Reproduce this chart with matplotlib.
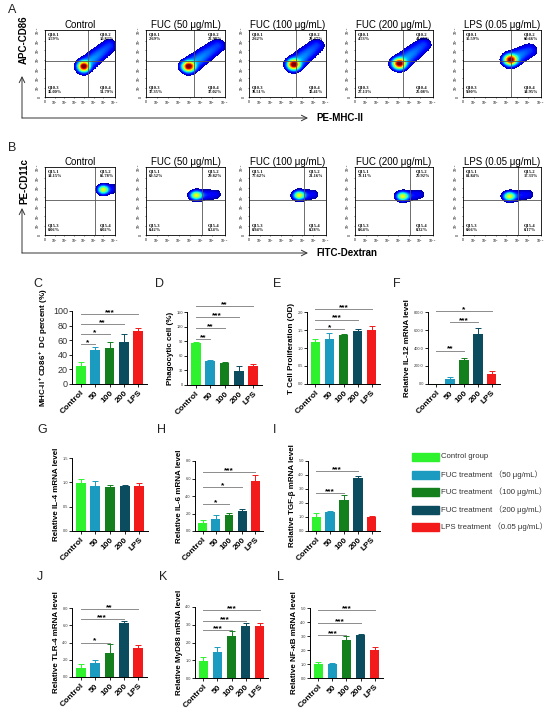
import matplotlib.pyplot as plt
import numpy as np
from matplotlib.patches import Rectangle

plt.rcParams['font.family'] = ['Liberation Sans', 'Noto Sans CJK SC', 'DejaVu Sans']
plt.rcParams['mathtext.default'] = 'regular'

# ---------------- data ----------------
groups = ['Control', '50', '100', '200', 'LPS']
colors = ['#2ef22e', '#1b9bbf', '#137f1d', '#0b4c5f', '#f21a1a']
legend_labels = ['Control group', 'FUC treatment （50 μg/mL）', 'FUC treatment （100 μg/mL）',
                 'FUC treatment （200 μg/mL）', 'LPS treatment （0.05 μg/mL）']

flow_titles = ['Control', 'FUC (50 μg/mL)', 'FUC (100 μg/mL)', 'FUC (200 μg/mL)', 'LPS (0.05 μg/mL)']

# panel A quadrant percentages (Q10-1 .. Q10-4)
a_q1 = [1.59, 2.69, 2.62, 4.53, 15.59]
a_q2 = [10.82, 22.98, 28.47, 43.26, 60.66]
a_q3 = [36.00, 37.35, 38.51, 27.13, 9.80]
a_q4 = [51.79, 37.02, 30.41, 25.08, 14.95]
# panel B quadrant percentages (Q15-1 .. Q15-4)
b_q1 = [14.15, 69.52, 77.62, 78.11, 81.84]
b_q2 = [85.78, 29.82, 21.16, 20.92, 17.33]
b_q3 = [0.06, 0.42, 0.94, 0.64, 0.66]
b_q4 = [0.02, 0.24, 0.28, 0.32, 0.17]

# cloud centres / tails (log10 units)
a_core_x = [4.0, 3.9, 4.2, 4.1, 4.4]
a_core_y = [3.3, 3.3, 3.5, 3.6, 4.0]
a_tail_x = [6.6, 6.5, 6.3, 6.3, 6.1]
a_tail_y = [5.5, 5.5, 5.5, 5.6, 5.0]
b_core_x = [6.0, 4.6, 4.7, 4.4, 4.3]
b_core_y = [4.8, 4.2, 4.2, 4.1, 4.1]
b_tail_x = [7.0, 6.3, 6.0, 5.9, 6.0]
b_tail_y = [4.9, 4.3, 4.3, 4.3, 4.3]
a_gate = (4.4, 3.9)
b_gate = (5.1, 3.7)

mhc_cd86 = [24, 47, 49, 57, 73]
mhc_cd86_err = [6, 3, 8, 12, 4]
phago = [87, 49.5, 44.7, 29, 40]
phago_err = [2, 1.5, 2, 10, 3]
tcell = [1.17, 1.26, 1.37, 1.46, 1.51]
tcell_err = [0.07, 0.17, 0.03, 0.08, 0.10]
il12 = [1, 60, 268, 558, 112]
il12_err = [0, 22, 22, 63, 33]
il4 = [0.99, 0.93, 0.90, 0.92, 0.92]
il4_err = [0.08, 0.10, 0.04, 0.03, 0.07]
il6 = [0.95, 1.33, 1.83, 2.32, 5.68]
il6_err = [0.27, 0.46, 0.19, 0.19, 0.68]
tgfb = [0.98, 1.33, 2.19, 3.81, 0.98]
tgfb_err = [0.28, 0.07, 0.36, 0.12, 0.12]
tlr4 = [1.04, 1.58, 2.74, 6.22, 3.36]
tlr4_err = [0.46, 0.42, 1.08, 0.28, 0.39]
myd88 = [0.98, 1.47, 2.36, 2.92, 2.92]
myd88_err = [0.21, 0.25, 0.28, 0.17, 0.16]
nfkb = [1.0, 0.98, 2.73, 3.09, 2.03]
nfkb_err = [0.12, 0.12, 0.26, 0.04, 0.22]

# significance brackets: (from, to, height, stars)
sig_c = [(0, 1, 55, '*'), (0, 2, 68, '*'), (0, 3, 82, '**'), (0, 4, 96, '***')]
sig_d = [(0, 1, 95, '**'), (0, 2, 117, '**'), (0, 3, 140, '***'), (0, 4, 163, '**')]
sig_e = [(0, 2, 1.52, '*'), (0, 3, 1.79, '***'), (0, 4, 2.07, '***')]
sig_f = [(0, 2, 372, '**'), (1, 3, 684, '***'), (0, 4, 807, '*')]
sig_h = [(0, 2, 3.09, '*'), (0, 3, 4.99, '*'), (0, 4, 6.78, '***')]
sig_i = [(0, 2, 2.69, '***'), (0, 3, 4.29, '***')]
sig_j = [(0, 2, 4.0, '*'), (0, 3, 6.76, '***'), (0, 4, 7.88, '**')]
sig_k = [(0, 2, 2.70, '***'), (0, 3, 3.23, '***'), (0, 4, 3.81, '***')]
sig_l = [(0, 2, 3.09, '***'), (0, 3, 3.92, '***'), (0, 4, 4.86, '***')]

# ---------------- layout helpers ----------------
W, H = 550, 711
fig = plt.figure(figsize=(W / 100, H / 100), dpi=100)


def fx(x):
    return x / W


def fy(y):
    return 1 - y / H


def px_axes(x0, y0, x1, y1):
    return fig.add_axes([x0 / W, 1 - y1 / H, (x1 - x0) / W, (y1 - y0) / H])


def draw_flow(ax, cx, cy, tx, ty, gate, qs, prefix, title, sx, sy, w, vmax):
    g = np.linspace(0, 7.2, 240)
    X, Y = np.meshgrid(g, g)
    core = np.exp(-(((X - cx) / sx) ** 2 + ((Y - cy) / sy) ** 2) / 2)
    dx, dy = tx - cx, ty - cy
    t = np.clip(((X - cx) * dx + (Y - cy) * dy) / (dx * dx + dy * dy), 0, 1)
    d2 = (X - cx - t * dx) ** 2 + (Y - cy - t * dy) ** 2
    tail = 0.16 * np.exp(-d2 / (2 * w * w)) * (1 - 0.5 * t)
    dens = np.ma.masked_less(core + tail, 0.025)
    ax.pcolormesh(g, g, dens ** 0.5, cmap='jet', vmin=0.12, vmax=vmax,
                  shading='auto', rasterized=True)
    ax.axvline(gate[0], color='#555555', lw=0.6)
    ax.axhline(gate[1], color='#555555', lw=0.6)
    ax.set_xlim(0, 7.2)
    ax.set_ylim(0, 7.2)
    tk = [0, 1, 2, 3, 4, 5, 6, 7.2]
    tl = ['0'] + ['$10^{%d}$' % i for i in range(1, 7)] + ['$10^{7.2}$']
    ax.set_xticks(tk)
    ax.set_xticklabels(tl, fontsize=2.5)
    ax.set_yticks(tk)
    ax.set_yticklabels(tl, fontsize=2.5, rotation=90, va='center')
    ax.tick_params(length=1, width=0.4, pad=1)
    for s in ax.spines.values():
        s.set_linewidth(0.6)
    sf = dict(fontsize=3.2, family='Liberation Serif', fontweight='bold', transform=ax.transAxes)
    ax.text(0.04, 0.96, '%s-1\n%.2f%%' % (prefix, qs[0]), ha='left', va='top', **sf)
    ax.text(0.78, 0.96, '%s-2\n%.2f%%' % (prefix, qs[1]), ha='left', va='top', **sf)
    ax.text(0.04, 0.04, '%s-3\n%.2f%%' % (prefix, qs[2]), ha='left', va='bottom', **sf)
    ax.text(0.78, 0.04, '%s-4\n%.2f%%' % (prefix, qs[3]), ha='left', va='bottom', **sf)
    ax.set_title(title, fontsize=7, pad=1.5)


flow_x = [(45, 115), (146, 225), (249, 326), (355, 433), (463, 541)]

# ---------------- panel A ----------------
for k, (x0, x1) in enumerate(flow_x):
    ax = px_axes(x0, 30, x1, 97)
    draw_flow(ax, a_core_x[k], a_core_y[k], a_tail_x[k], a_tail_y[k], a_gate,
              [a_q1[k], a_q2[k], a_q3[k], a_q4[k]], 'Q10', flow_titles[k],
              0.32, 0.3, 0.5, 1.0)

# ---------------- panel B ----------------
for k, (x0, x1) in enumerate(flow_x):
    ax = px_axes(x0, 167, x1, 235)
    draw_flow(ax, b_core_x[k], b_core_y[k], b_tail_x[k], b_tail_y[k], b_gate,
              [b_q1[k], b_q2[k], b_q3[k], b_q4[k]], 'Q15', flow_titles[k],
              0.3, 0.24, 0.33, 1.6)

arr = dict(arrowstyle='->', lw=0.7, color='#333333', shrinkA=0, shrinkB=0)
for ytop, ybase, ylab, ymid, xlab in [(76, 118, 'APC-CD86', 40, 'PE-MHC-II'),
                                     (208, 253, 'PE-CD11c', 181, 'FITC-Dextran')]:
    plt.annotate('', xy=(fx(22), fy(ytop)), xytext=(fx(22), fy(ybase)),
                 xycoords='figure fraction', arrowprops=arr)
    plt.annotate('', xy=(fx(308), fy(ybase)), xytext=(fx(22), fy(ybase)),
                 xycoords='figure fraction', arrowprops=arr)
    fig.text(fx(24), fy(ymid), ylab, rotation=90, ha='center', va='center',
             fontsize=7, fontweight='bold')
    fig.text(fx(316), fy(ybase), xlab, ha='left', va='center', fontsize=7, fontweight='bold')

# ---------------- bar panels ----------------


def bar_panel(box, vals, errs, ticks, fmt, ylabel, comps, big=False):
    ax = px_axes(*box)
    x = np.arange(len(groups))
    ax.bar(x, vals, width=0.68, color=colors, zorder=2)
    for xi, v, e, c in zip(x, vals, errs, colors):
        ax.errorbar(xi, v, yerr=[[0], [e]], color=c, capsize=2, elinewidth=0.7,
                    capthick=0.7, zorder=1)
    ax.set_xlim(-0.6, 4.6)
    ax.set_ylim(0, ticks[-1])
    ax.set_yticks(ticks)
    ax.set_yticklabels([fmt % t for t in ticks], fontsize=6.5 if big else 2.8,
                       color='#333333')
    ax.set_xticks(x)
    ax.set_xticklabels(groups, rotation=45, ha='right', rotation_mode='anchor',
                       fontsize=6, fontweight='bold')
    ax.tick_params(length=2, width=0.6, pad=1)
    ax.tick_params(axis='x', pad=2)
    for s in ['top', 'right']:
        ax.spines[s].set_visible(False)
    for s in ['left', 'bottom']:
        ax.spines[s].set_linewidth(0.7)
    ax.set_ylabel(ylabel, fontsize=5.8, fontweight='bold', labelpad=2)
    for i, j, y, s in comps:
        ax.plot([i, j], [y, y], color='#8c8c8c', lw=0.7, clip_on=False)
        ax.annotate(s, xy=((i + j) / 2, y), xytext=(0, -1.5), textcoords='offset points',
                    ha='center', va='bottom', fontsize=6, fontweight='bold',
                    annotation_clip=False)
    return ax


bar_panel((72, 311, 147, 384), mhc_cd86, mhc_cd86_err, [0, 20, 40, 60, 80, 100], '%d',
          'MHC-II$^+$CD86$^+$ DC percent (%)', sig_c, big=True)
bar_panel((187, 312, 262, 385), phago, phago_err, [0, 30, 60, 90, 120, 150], '%d',
          'Phagocytic cell (%)', sig_d)
bar_panel((307, 312, 380, 384), tcell, tcell_err, [0, 0.5, 1.0, 1.5, 2.0], '%.1f',
          'T Cell Proliferation (OD)', sig_e)
bar_panel((428, 312, 500, 384), il12, il12_err, [0, 200, 400, 600, 800], '%.1f',
          'Relative IL-12 mRNA level', sig_f)
bar_panel((72, 458, 148, 531), il4, il4_err, [0, 0.5, 1.0, 1.5], '%.1f',
          'Relative IL-4 mRNA level', [])
bar_panel((195, 461, 263, 531), il6, il6_err, [0, 2, 4, 6, 8], '%.1f',
          'Relative IL-6 mRNA level', sig_h)
bar_panel((308, 461, 380, 531), tgfb, tgfb_err, [0, 1, 2, 3, 4, 5], '%.1f',
          'Relative TGF-β mRNA level', sig_i)
bar_panel((72, 608, 147, 677), tlr4, tlr4_err, [0, 2, 4, 6, 8], '%.1f',
          'Relative TLR-4 mRNA level', sig_j)
bar_panel((195, 607, 268, 678), myd88, myd88_err, [0, 1, 2, 3, 4], '%.1f',
          'Relative MyD88 mRNA level', sig_k)
bar_panel((310, 608, 383, 678), nfkb, nfkb_err, [0, 1, 2, 3, 4, 5], '%.1f',
          'Relative NF-κB mRNA level', sig_l)

# ---------------- legend ----------------
for k, (lab, c) in enumerate(zip(legend_labels, colors)):
    yc = 457 + k * 17.5
    fig.add_artist(Rectangle((fx(412), fy(yc + 4)), 27 / W, 8 / H,
                             transform=fig.transFigure, color=c))
    fig.text(fx(441), fy(yc), lab, ha='left', va='center', fontsize=5.6, color='#333333')

# ---------------- panel letters ----------------
letters = {'A': (8, 10), 'B': (8, 148), 'C': (33, 284), 'D': (155, 284), 'E': (273, 284),
           'F': (393, 284), 'G': (37, 430), 'H': (157, 430), 'I': (273, 430),
           'J': (37, 577), 'K': (159, 577), 'L': (277, 577)}
for t, (x, y) in letters.items():
    fig.text(fx(x), fy(y), t, ha='left', va='center', fontsize=9, color='#222222')

fig.savefig('out.png', dpi=100)
